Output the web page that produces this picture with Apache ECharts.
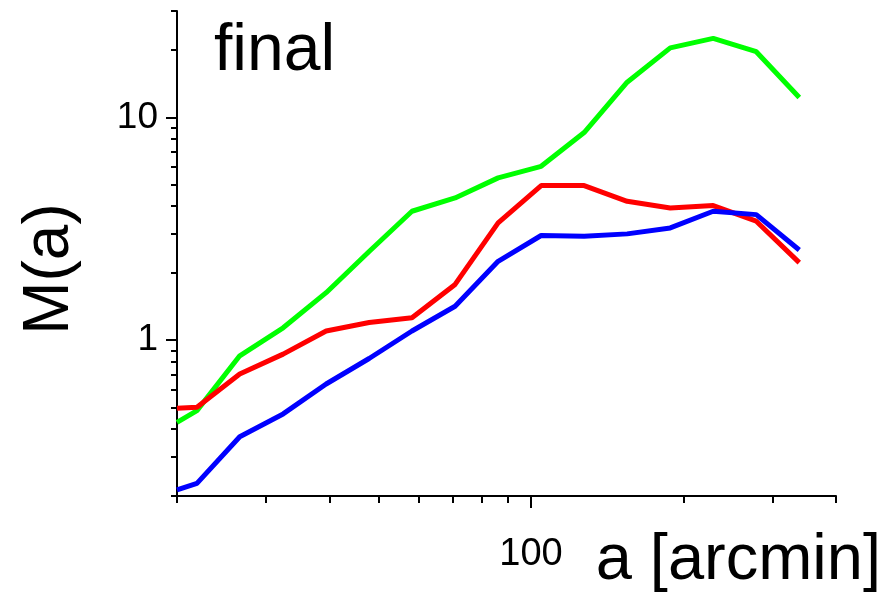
<!DOCTYPE html>
<html>
<head>
<meta charset="utf-8">
<script src="https://cdn.jsdelivr.net/npm/echarts@6/dist/echarts.min.js"></script>
<style>
html,body{margin:0;padding:0;background:#fff;}
#chart{width:893px;height:596px;}
</style>
</head>
<body>
<div id="chart"></div>
<script>
// Data
const aValues = [20, 21.9, 26.6, 32.4, 39.4, 47.9, 58.2, 70.8, 86.1, 104.7, 127.3, 154.8, 188.3, 228.9, 278.4, 338.5];
const greenM = [0.428, 0.483, 0.851, 1.137, 1.634, 2.50, 3.79, 4.35, 5.35, 6.03, 8.55, 14.37, 20.5, 22.6, 19.7, 12.27];
const redM   = [0.495, 0.500, 0.705, 0.866, 1.10, 1.20, 1.26, 1.78, 3.36, 4.94, 4.94, 4.20, 3.92, 4.02, 3.42, 2.23];
const blueM  = [0.213, 0.228, 0.369, 0.467, 0.636, 0.828, 1.10, 1.42, 2.26, 2.95, 2.93, 3.00, 3.19, 3.79, 3.66, 2.54];

const xMinorTicks = [20, 30, 40, 50, 60, 70, 80, 90, 200, 300, 400];
const xMajorTicks = [100];
const yMinorTicks = [0.2, 0.3, 0.4, 0.5, 0.6, 0.7, 0.8, 0.9, 2, 3, 4, 5, 6, 7, 8, 9, 20, 30];
const yMajorTicks = [1, 10];

const xRange = [20, 400];
const yRange = [0.2, 30];

const FONT = '"Liberation Sans", Arial, sans-serif';

function pairs(ys) { return aValues.map((a, i) => [a, ys[i]]); }

const chart = echarts.init(document.getElementById('chart'), null, {renderer: 'canvas'});

const baseX = {
  type: 'log', logBase: 10, min: xRange[0], max: xRange[1], gridIndex: 0, position: 'bottom',
  splitLine: {show: false}, minorTick: {show: false}, minorSplitLine: {show: false}
};
const baseY = {
  type: 'log', logBase: 10, min: yRange[0], max: yRange[1], gridIndex: 0, position: 'left',
  splitLine: {show: false}, minorTick: {show: false}, minorSplitLine: {show: false}
};

chart.setOption({
  animation: false,
  backgroundColor: '#ffffff',
  grid: {left: 177, top: 11, right: 57, bottom: 100, containLabel: false},
  xAxis: [
    Object.assign({}, baseX, {
      axisLine: {show: true, lineStyle: {color: '#000', width: 2}},
      axisTick: {show: true, inside: false, length: 7, lineStyle: {color: '#000', width: 2}, customValues: xMinorTicks},
      axisLabel: {show: false}
    }),
    Object.assign({}, baseX, {
      axisLine: {show: false},
      axisTick: {show: true, inside: false, length: 12, lineStyle: {color: '#000', width: 2}, customValues: xMajorTicks},
      axisLabel: {show: true, customValues: xMajorTicks, margin: 40, color: '#000', fontSize: 38, fontFamily: FONT,
        formatter: v => String(Math.round(v))}
    })
  ],
  yAxis: [
    Object.assign({}, baseY, {
      axisLine: {show: true, lineStyle: {color: '#000', width: 2}},
      axisTick: {show: true, inside: false, length: 6, lineStyle: {color: '#000', width: 2}, customValues: yMinorTicks},
      axisLabel: {show: false}
    }),
    Object.assign({}, baseY, {
      axisLine: {show: false},
      axisTick: {show: true, inside: false, length: 11, lineStyle: {color: '#000', width: 2}, customValues: yMajorTicks},
      axisLabel: {show: true, customValues: yMajorTicks, margin: 19, color: '#000', fontSize: 37, fontFamily: FONT,
        formatter: v => String(Math.round(v))}
    })
  ],
  graphic: [
    {type: 'text', left: 214, top: 19, style: {text: 'final', font: '66px ' + FONT, fill: '#000'}},
    {type: 'text', x: 50, y: 269, rotation: Math.PI / 2,
      style: {text: 'M(a)', font: '64px ' + FONT, fill: '#000', align: 'center', verticalAlign: 'middle'}},
    {type: 'text', right: 12, top: 529, style: {text: 'a [arcmin]', font: '65px ' + FONT, fill: '#000'}}
  ],
  series: [
    {name: 'green', type: 'line', xAxisIndex: 0, yAxisIndex: 0, data: pairs(greenM), showSymbol: false, symbol: 'none',
      lineStyle: {color: '#00ff00', width: 5}, itemStyle: {color: '#00ff00'}, clip: true},
    {name: 'red', type: 'line', xAxisIndex: 0, yAxisIndex: 0, data: pairs(redM), showSymbol: false, symbol: 'none',
      lineStyle: {color: '#ff0000', width: 5}, itemStyle: {color: '#ff0000'}, clip: true},
    {name: 'blue', type: 'line', xAxisIndex: 0, yAxisIndex: 0, data: pairs(blueM), showSymbol: false, symbol: 'none',
      lineStyle: {color: '#0000ff', width: 5}, itemStyle: {color: '#0000ff'}, clip: true}
  ]
});
</script>
</body>
</html>
